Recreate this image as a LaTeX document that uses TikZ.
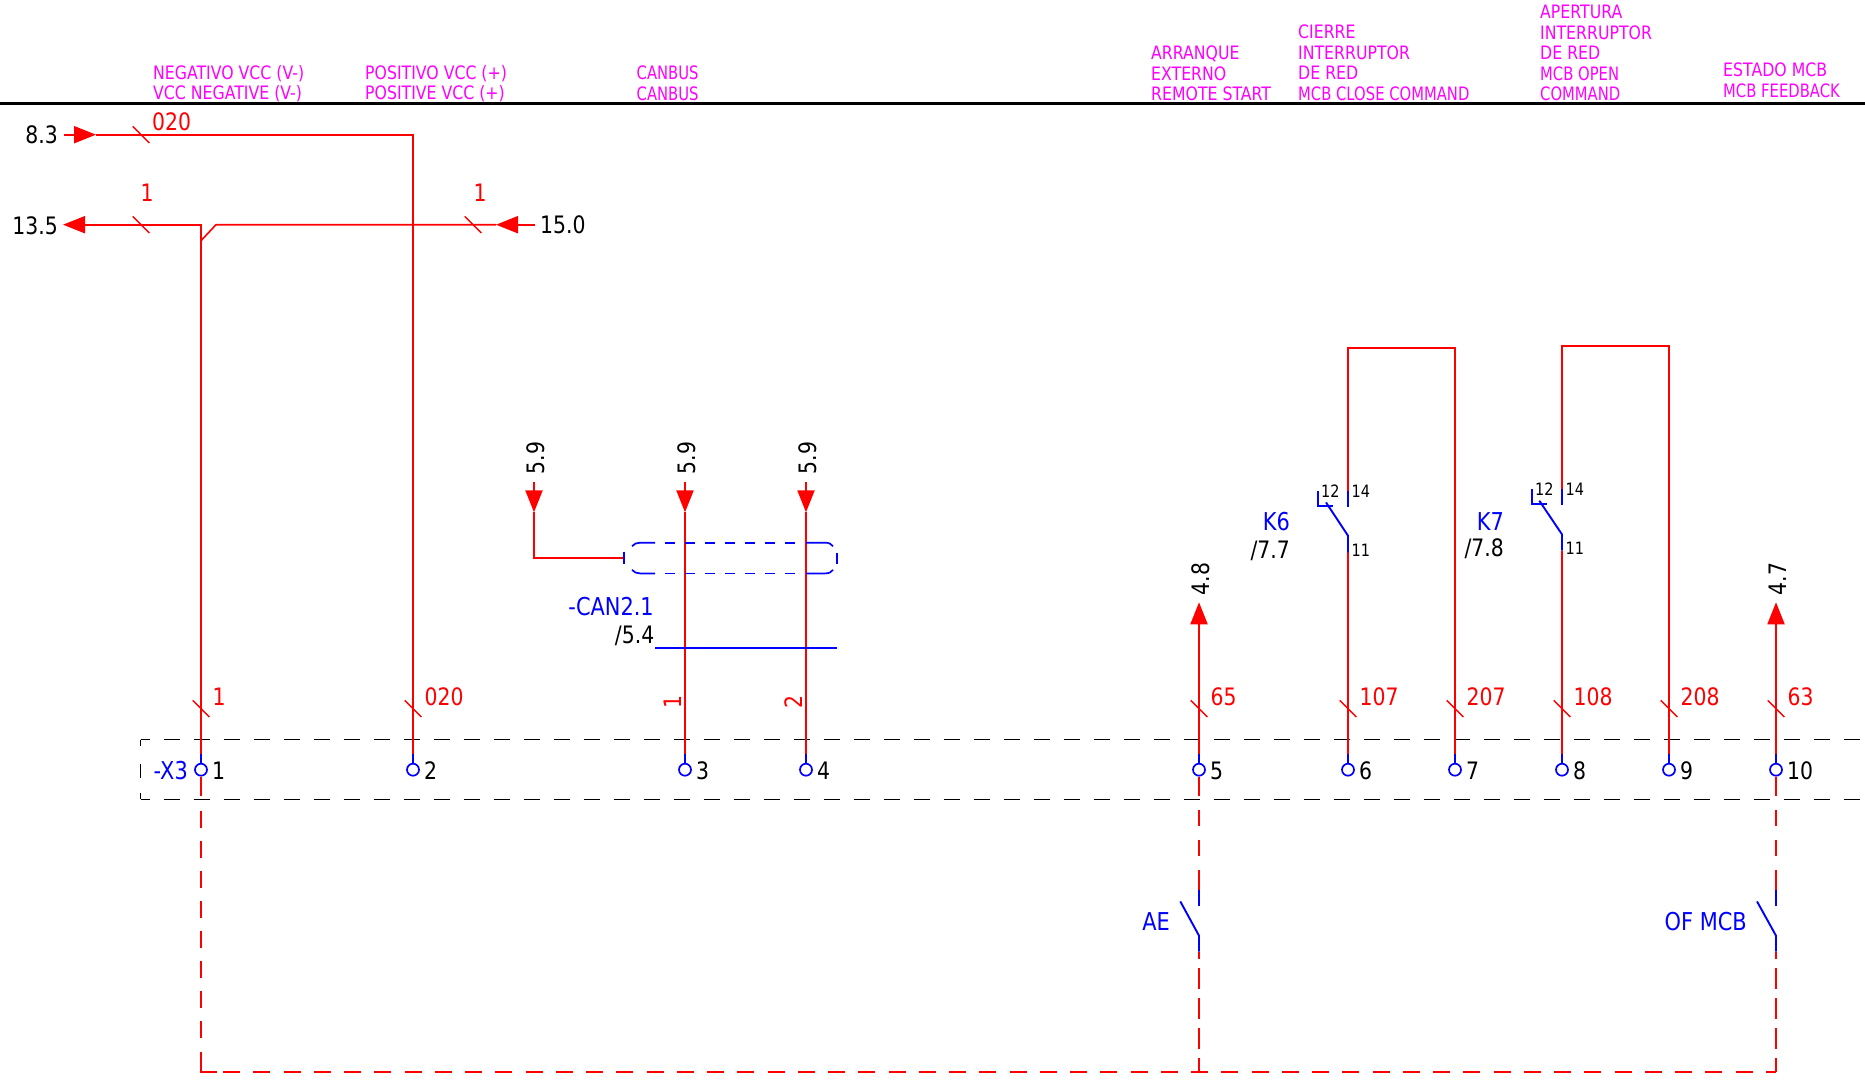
\documentclass[tikz,border=0pt]{standalone}
\usepackage{fontspec}
\setmainfont[FakeStretch=0.85]{DejaVu Sans}
\newfontfamily\headtight[FakeStretch=0.8]{DejaVu Sans}
\usetikzlibrary{arrows.meta}
\definecolor{wirered}{RGB}{255,0,0}
\definecolor{devblue}{RGB}{0,0,255}
\definecolor{headmag}{RGB}{255,0,255}
\tikzset{
  x=1pt,y=-1pt,
  wire/.style={draw=wirered,line width=1.9pt},
  dwire/.style={draw=wirered,line width=1.9pt,dash pattern=on 16.5pt off 13.5pt},
  dwireb/.style={draw=wirered,line width=1.9pt,dash pattern=on 20.6pt off 9.4pt,dash phase=13.6pt},
  dwirec/.style={draw=wirered,line width=1.9pt,dash pattern=on 17pt off 13.25pt},
  dev/.style={draw=devblue,line width=1.9pt},
  tick/.style={draw=wirered,line width=1.4pt},
  arr/.style={-{Triangle[length=22pt,width=17pt,fill=wirered]}},
  term/.style={circle,draw=devblue,line width=1.7pt,minimum size=12pt,inner sep=0pt,fill=white},
  txt/.style={inner sep=0pt,yshift=0.7pt,font=\fontsize{24}{28}\selectfont},
  lbl/.style={txt,text=black},
  rlbl/.style={txt,text=wirered},
  blbl/.style={inner sep=0pt,yshift=0.7pt,text=devblue,font=\fontsize{24.6}{28}\selectfont},
  small/.style={inner sep=0pt,yshift=0.7pt,text=black,font=\fontsize{17}{18}\selectfont,anchor=west},
  head/.style={inner sep=0pt,yshift=0.7pt,text=headmag,anchor=west,align=left,font=\fontsize{18.5}{20.5}\selectfont},
  boxd/.style={draw=black,line width=1.5pt},
}
\begin{document}
\begin{tikzpicture}
\useasboundingbox (0,0) rectangle (1865,1081);
\begin{scope}[yshift=-0.7pt]
% header
\coordinate (hl) at (0,103); \coordinate (hr) at (1865,103);
\draw[black,line width=2.8pt] (hl) -- (hr);
\node[head] (h1) at (153,83.5) {NEGATIVO VCC (V-)\\VCC NEGATIVE (V-)};
\node[head] (h2) at (365,83.5) {POSITIVO VCC (+)\\POSITIVE VCC (+)};
\node[head] (h3) at (636.5,83.5) {{\headtight CANBUS}\\{\headtight CANBUS}};
\node[head] (h4) at (1151,73.5) {ARRANQUE\\EXTERNO\\REMOTE START};
\node[head] (h5) at (1298,63) {CIERRE\\INTERRUPTOR\\DE RED\\{\headtight MCB CLOSE COMMAND}};
\node[head] (h6) at (1540,53) {APERTURA\\INTERRUPTOR\\DE RED\\{\headtight MCB OPEN}\\{\headtight COMMAND}};
\node[head] (h7) at (1723,80.5) {ESTADO MCB\\{\headtight MCB FEEDBACK}};
% terminal strip
\coordinate (bxtl) at (140.7,739); \coordinate (bxbl) at (140.7,798.7);
\coordinate (bxtr) at (1865,739); \coordinate (bxbr) at (1865,798.7);
\draw[boxd,dash pattern=on 16.5pt off 13.5pt,dash phase=7.2pt] (bxtl) -- (bxtr);
\draw[boxd,dash pattern=on 16.5pt off 13.5pt,dash phase=7.2pt] (bxbl) -- (bxbr);
\draw[boxd,dash pattern=on 6.7pt off 17.3pt on 14pt off 15pt on 7pt off 100pt] (bxtl) -- (bxbl);
\node[blbl,anchor=east] (x3) at (188,771) {-X3};
% terminals
\foreach \n/\px/\t in {1/201/1,2/413/2,3/685/3,4/806/4,5/1199/5,6/1348/6,7/1455/7,8/1562/8,9/1669/9,10/1776/10}{
  \coordinate (up\n) at (\px,753);
  \coordinate (dn\n) at (\px,795);
  \coordinate (wt\n) at (\px,708);
  \draw[dev] (up\n) -- (\px,769);
  \node[term] (t\n) at (\px,769) {};
  \node[lbl,anchor=west] (tn\n) at (\px+11,771) {\t};
}
% ---- wire 1 and 2, top feeds
\coordinate (a1s) at (64,134); \coordinate (a1t) at (96,134);
\coordinate (w2c) at (413,134);
\draw[wire,arr] (a1s) -- (a1t);
\draw[wire] (a1t) -- (w2c) -- (up2);
\node[lbl,anchor=east] (l83) at (58,135) {8.3};
\node[rlbl,anchor=west] (n020a) at (152,122) {020};
\coordinate (a2s) at (201.7,224); \coordinate (a2t) at (63,224);
\draw[wire,arr] (a2s) -- (a2t);
\coordinate (jb) at (201,240); \coordinate (jt) at (216,224);
\coordinate (a3s) at (535,224); \coordinate (a3t) at (496,224);
\draw[wire,arr] (a3s) -- (a3t);
\draw[wire] (201,224) -- (up1);
\draw[wire,line width=1.6pt] (jb) -- (jt) -- (a3t);
\node[lbl,anchor=east] (l135) at (58,226) {13.5};
\node[lbl,anchor=west] (l150) at (540,225) {15.0};
\node[rlbl] (n1a) at (147,193) {1};
\node[rlbl] (n1b) at (480,193) {1};
% ticks on horizontal wires
\foreach \n/\px/\py in {a/141/134,b/141/224,c/473/224}{
  \coordinate (tka\n) at (\px-8.3,\py-8.3);
  \coordinate (tkb\n) at (\px+8.3,\py+8.3);
  \draw[tick] (tka\n) -- (tkb\n);
}
% ticks on vertical wires + labels
\foreach \n/\px/\lab in {1/201/1,2/413/020,5/1199/65,6/1348/107,7/1455/207,8/1562/108,9/1669/208,10/1776/63}{
  \coordinate (vka\n) at (\px-8.3,708-8.3);
  \coordinate (vkb\n) at (\px+8.3,708+8.3);
  \draw[tick] (vka\n) -- (vkb\n);
  \node[rlbl,anchor=west] (wl\n) at (\px+11.5,697) {\lab};
}
% CAN
\foreach \n/\px/\tx in {a/534/536,b/685/687,c/806/808}{
  \coordinate (ca\n) at (\px,481);
  \coordinate (cb\n) at (\px,511.7);
  \draw[wire,arr] (ca\n) -- (cb\n);
  \node[lbl,rotate=90] (c59\n) at (\tx,458) {5.9};
}
\draw[wire] (cbb) -- (up3);
\draw[wire] (cbc) -- (up4);
\coordinate (sh) at (534,557); \coordinate (shl) at (624.3,557);
\draw[wire] (cba) -- (sh) -- (shl);
\node[rlbl,rotate=90] (n1c) at (673,702) {1};
\node[rlbl,rotate=90] (n2c) at (794,702) {2};
% shield
\begin{scope}[dev,line width=1.7pt]
\draw (624.3,551) -- (624.3,563);
\draw (632,545.5) .. controls (634,543) and (637,542) .. (640,542) -- (655,542);
\draw (632,569.2) .. controls (634,571.7) and (637,572.7) .. (640,572.7) -- (655,572.7);
\draw (806,542) -- (825,542) .. controls (829,542) and (831,543) .. (833,545.5);
\draw (806,572.7) -- (825,572.7) .. controls (829,572.7) and (831,571.7) .. (833,569.2);
\draw (836.7,552) -- (836.7,563);
\draw[dash pattern=on 10pt off 10pt] (665,542) -- (796,542);
\draw[dash pattern=on 10pt off 10pt] (665,572.7) -- (796,572.7);
\end{scope}
\coordinate (canl) at (655,647.7); \coordinate (canr) at (836.7,647.7);
\draw[dev] (canl) -- (canr);
\node[blbl,anchor=east] (can) at (654,606.5) {-CAN2.1};
\node[lbl,anchor=east] (can2) at (654.5,636) {/5.4};
% feedback arrows
\foreach \n/\px/\tx/\lab in {5/1199/1201/4.8,10/1776/1778/4.7}{
  \coordinate (fb\n) at (\px,601.6);
  \draw[wire,arr] (up\n) -- (fb\n);
  \node[lbl,rotate=90] (ft\n) at (\tx,579) {\lab};
}
% K6
\coordinate (k6a) at (1348,551.7); \coordinate (k6b) at (1348,535);
\coordinate (k6c) at (1326,501.7);
\coordinate (k6d) at (1317.7,490.7); \coordinate (k6e) at (1317.7,505.7); \coordinate (k6f) at (1333,505.7);
\coordinate (k6g) at (1348,490); \coordinate (k6h) at (1348,506);
\coordinate (k6i) at (1348,347); \coordinate (k6j) at (1455,347);
\draw[wire] (up6) -- (k6a);
\draw[dev] (k6a) -- (k6b) -- (k6c);
\draw[dev] (k6d) -- (k6e) -- (k6f);
\draw[dev] (k6g) -- (k6h);
\draw[wire] (k6g) -- (k6i) -- (k6j) -- (up7);
\node[small] (k612) at (1321,491) {12};
\node[small] (k614) at (1351.5,491) {14};
\node[small] (k611) at (1351.5,550) {11};
\node[blbl,anchor=east] (k6n) at (1290,522) {K6};
\node[lbl,anchor=east] (k6r) at (1290,551) {/7.7};
% K7
\coordinate (k7a) at (1562,550); \coordinate (k7b) at (1562,533.7);
\coordinate (k7c) at (1539.3,500);
\coordinate (k7d) at (1531.7,488.7); \coordinate (k7e) at (1531.7,503.7); \coordinate (k7f) at (1547.3,503.7);
\coordinate (k7g) at (1562,488); \coordinate (k7h) at (1562,504);
\coordinate (k7i) at (1562,345.5); \coordinate (k7j) at (1669,345.5);
\draw[wire] (up8) -- (k7a);
\draw[dev] (k7a) -- (k7b) -- (k7c);
\draw[dev] (k7d) -- (k7e) -- (k7f);
\draw[dev] (k7g) -- (k7h);
\draw[wire] (k7g) -- (k7i) -- (k7j) -- (up9);
\node[small] (k712) at (1535,489) {12};
\node[small] (k714) at (1565.5,489) {14};
\node[small] (k711) at (1565.5,548) {11};
\node[blbl,anchor=east] (k7n) at (1504,521.5) {K7};
\node[lbl,anchor=east] (k7r) at (1504,549) {/7.8};
% lower dashed circuit
\coordinate (bl) at (201,1071); \coordinate (bx) at (217,1071); \coordinate (bd) at (223,1071);
\coordinate (bm) at (1199,1071); \coordinate (br) at (1776,1071);
\draw[wire] (t1) -- (dn1);
\draw[wire] (t5) -- (dn5);
\draw[wire] (t10) -- (dn10);
\draw[dwire] (201,810.5) -- (201,1040);
\draw[wire] (201,1051) -- (bl) -- (bx);
\draw[dwirec] (bd) -- (br);
\coordinate (ae1) at (1199,889); \coordinate (ae2) at (1199,905.3);
\coordinate (ae3) at (1180.3,900.7); \coordinate (ae4) at (1199,935); \coordinate (ae5) at (1199,951);
\coordinate (of1) at (1776,889); \coordinate (of2) at (1776,905.3);
\coordinate (of3) at (1757,900.7); \coordinate (of4) at (1776,935); \coordinate (of5) at (1776,951);
\draw[dwire,dash pattern=on 16pt off 14pt on 16pt off 14pt on 20pt off 100pt] (1199,809) -- (ae1);
\draw[dev] (ae1) -- (ae2);
\draw[dev] (ae3) -- (ae4) -- (ae5);
\draw[dwireb] (ae5) -- (bm);
\draw[dwire,dash pattern=on 16pt off 14pt on 16pt off 14pt on 20pt off 100pt] (1776,809) -- (of1);
\draw[dev] (of1) -- (of2);
\draw[dev] (of3) -- (of4) -- (of5);
\draw[dwireb] (of5) -- (br);
\node[blbl,anchor=east] (ae) at (1170,922) {AE};
\node[blbl,anchor=east] (of) at (1747,922) {OF MCB};
\end{scope}
\end{tikzpicture}
\end{document}
